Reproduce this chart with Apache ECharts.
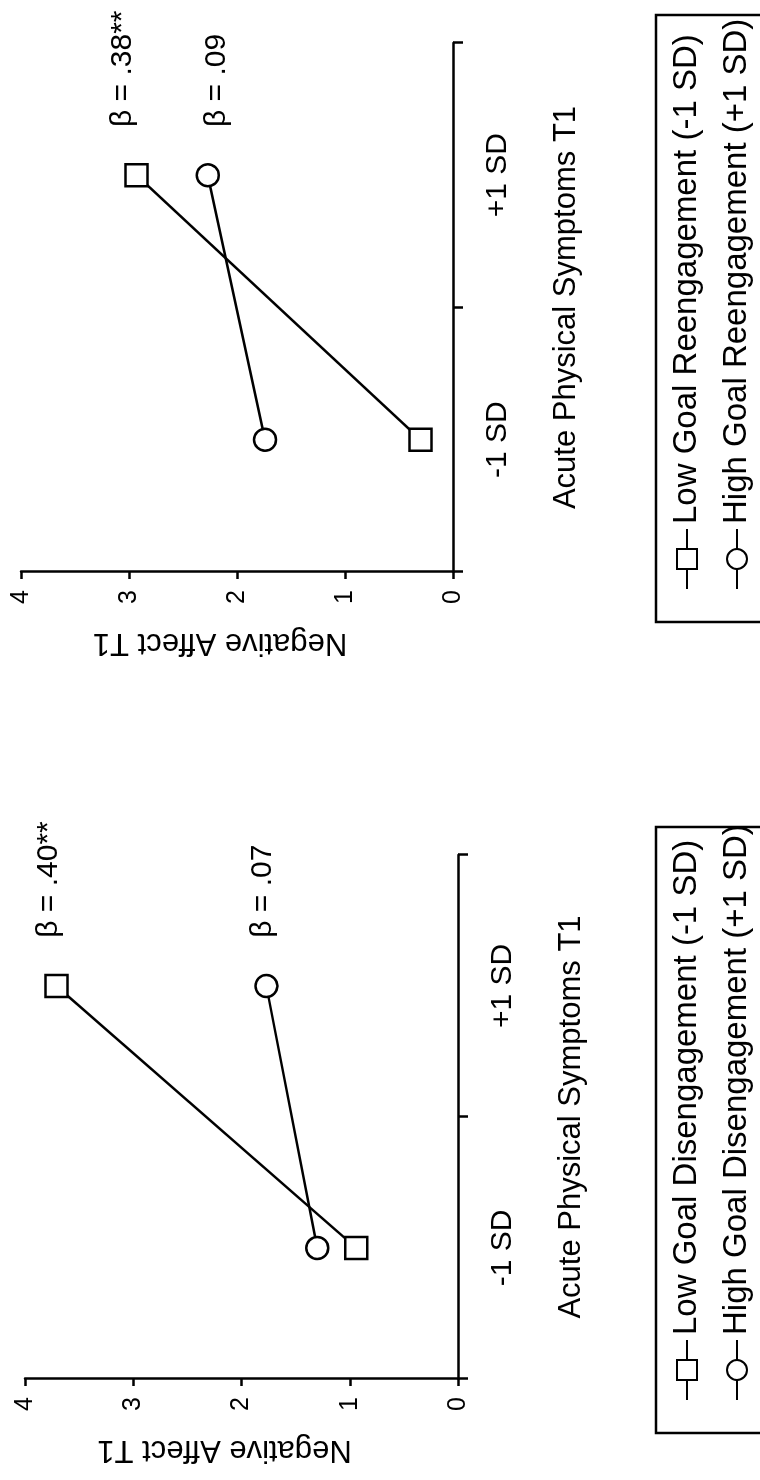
<!DOCTYPE html>
<html>
<head>
<meta charset="utf-8">
<script src="https://cdn.jsdelivr.net/npm/echarts@6/dist/echarts.min.js"></script>
<style>
html, body { margin: 0; padding: 0; width: 760px; height: 1480px; overflow: hidden; background: #fff; }
#chart { position: absolute; left: 0; top: 0; width: 1480px; height: 860px; transform-origin: 0 0; transform: translateY(1480px) rotate(-90deg); }
</style>
</head>
<body>
<div id="chart"></div>
<script>
// Data
const categories = ['-1 SD', '+1 SD'];
const disLow = [0.94, 3.71];
const disHigh = [1.30, 1.77];
const reLow = [0.30, 2.93];
const reHigh = [1.74, 2.27];
const betaDis = ['β = .40**', 'β = .07'];
const betaRe = ['β = .38**', 'β = .09'];
const namesDis = ['Low Goal Disengagement (-1 SD)', 'High Goal Disengagement (+1 SD)'];
const namesRe = ['Low Goal Reengagement (-1 SD)', 'High Goal Reengagement (+1 SD)'];
const yAxisTitle = 'Negative Affect T1';
const xAxisTitle = 'Acute Physical Symptoms T1';

const FONT = '"Liberation Sans", Arial, sans-serif';
const BLACK = '#000';
const LW = 2.5;

function xAxis(gridIndex) {
  return {
    type: 'category', gridIndex, data: categories, boundaryGap: true,
    axisLine: { lineStyle: { color: BLACK, width: LW } },
    axisTick: { show: true, length: 10, lineStyle: { color: BLACK, width: LW } },
    axisLabel: { color: BLACK, fontSize: 30, fontFamily: FONT, margin: 30 },
    name: xAxisTitle, nameLocation: 'middle', nameGap: 98,
    nameTextStyle: { color: BLACK, fontSize: 31, fontFamily: FONT },
    splitLine: { show: false }
  };
}
function yAxis(gridIndex) {
  return {
    type: 'value', gridIndex, min: 0, max: 4, interval: 1,
    axisLine: { show: true, lineStyle: { color: BLACK, width: LW } },
    axisTick: { show: true, length: 7, lineStyle: { color: BLACK, width: LW } },
    axisLabel: { color: BLACK, fontSize: 25, fontFamily: FONT, margin: 18 },
    splitLine: { show: false },
    name: yAxisTitle, nameLocation: 'middle', nameRotate: 90, nameGap: 55,
    nameTextStyle: { color: BLACK, fontSize: 31, fontFamily: FONT, padding: [0, 0, 0, 34] }
  };
}
function series(name, symbol, values, betas, idx, labelOffsetY) {
  return {
    type: 'line', name, xAxisIndex: idx, yAxisIndex: idx,
    symbol, symbolSize: 22,
    lineStyle: { color: BLACK, width: LW },
    itemStyle: { color: '#fff', borderColor: BLACK, borderWidth: LW },
    emphasis: { disabled: true },
    data: values.map((v, i) => i === values.length - 1 ? {
      value: v,
      label: { show: true, position: 'right', distance: 36, offset: [0, labelOffsetY],
        formatter: betas, color: BLACK, fontSize: 30, fontFamily: FONT }
    } : v),
    z: 3
  };
}
function legend(names, left) {
  return {
    data: names, orient: 'vertical', left, top: 656, height: 200,
    padding: [6, 15, 6, 32], itemGap: 0, itemWidth: 60, itemHeight: 25,
    borderWidth: 0, backgroundColor: 'transparent',
    textStyle: { color: BLACK, fontSize: 33, fontFamily: FONT, lineHeight: 50 },
    selectedMode: false
  };
}
function legendFrame(x, width) {
  return { type: 'rect', silent: true, z: 10,
    shape: { x, y: 656, width, height: 190 },
    style: { fill: 'none', stroke: BLACK, lineWidth: LW } };
}

const chart = echarts.init(document.getElementById('chart'), null, { renderer: 'canvas' });
chart.setOption({
  animation: false,
  backgroundColor: '#fff',
  grid: [
    { left: 101, width: 524, top: 25, height: 433 },
    { left: 908, width: 529, top: 21, height: 432 }
  ],
  xAxis: [xAxis(0), xAxis(1)],
  yAxis: [yAxis(0), yAxis(1)],
  legend: [legend(namesDis, 47), legend(namesRe, 858)],
  graphic: [legendFrame(47, 606), legendFrame(858, 607)],
  series: [
    series(namesDis[0], 'rect', disLow, betaDis[0], 0, -8),
    series(namesDis[1], 'circle', disHigh, betaDis[1], 0, -4),
    series(namesRe[0], 'rect', reLow, betaRe[0], 1, -14),
    series(namesRe[1], 'circle', reHigh, betaRe[1], 1, 9)
  ]
});
</script>
</body>
</html>
